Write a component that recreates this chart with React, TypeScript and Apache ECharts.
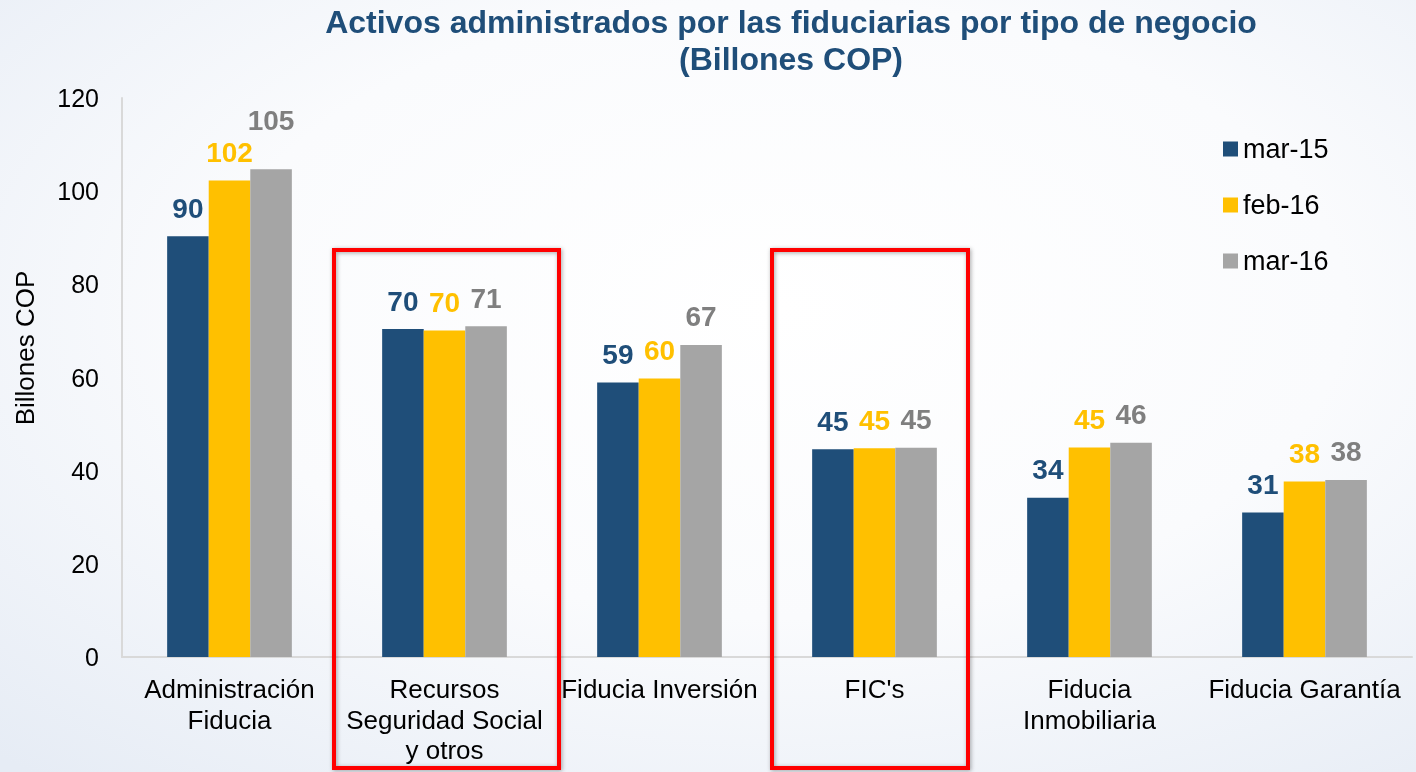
import React, { useEffect, useRef } from "react";
import * as echarts from "echarts";

const categories = [
  "Administración\nFiducia",
  "Recursos\nSeguridad Social\ny otros",
  "Fiducia Inversión",
  "FIC's",
  "Fiducia\nInmobiliaria",
  "Fiducia Garantía",
];
const seriesNames = ["mar-15", "feb-16", "mar-16"];
const mar15 = [90.3, 70.4, 58.9, 44.6, 34.2, 31.0];
const feb16 = [102.3, 70.1, 59.8, 44.8, 45.0, 37.7];
const mar16 = [104.7, 71.0, 67.0, 44.9, 46.0, 38.0];
const yTicks = [0, 20, 40, 60, 80, 100, 120];

const barColors = ["#1F4E79", "#FFC000", "#A5A5A5"];
const labelColors = ["#1F4E79", "#FFC000", "#7F7F7F"];
const FONT = "Liberation Sans, Arial, sans-serif";

export default function App() {
  const ref = useRef<HTMLDivElement>(null);
  useEffect(() => {
    if (!ref.current) return;
    const chart = echarts.init(ref.current, undefined, { renderer: "svg" });
    const data = [mar15, feb16, mar16];
    const boxStyle = {
      fill: "none",
      stroke: "#FF0000",
      lineWidth: 4,
      shadowBlur: 4,
      shadowColor: "rgba(0,0,0,0.35)",
      shadowOffsetX: 1,
      shadowOffsetY: 1,
    };
    chart.setOption({
      animation: false,
      backgroundColor: {
        type: "radial",
        x: 0.55,
        y: 0.4,
        r: 0.8,
        colorStops: [
          { offset: 0, color: "#FFFFFF" },
          { offset: 0.5, color: "#FAFBFD" },
          { offset: 1, color: "#E6ECF5" },
        ],
      },
      textStyle: { fontFamily: FONT },
      title: {
        text: "Activos administrados por las fiduciarias por tipo de negocio\n(Billones COP)",
        left: 786,
        top: -2,
        textAlign: "center",
        textStyle: {
          fontFamily: FONT,
          fontSize: 32,
          fontWeight: "bold",
          color: "#1F4E79",
          lineHeight: 37,
        },
      },
      legend: {
        orient: "vertical",
        left: 1218,
        top: 129,
        icon: "rect",
        itemWidth: 15,
        itemHeight: 15,
        itemGap: 26,
        data: seriesNames,
        textStyle: {
          fontFamily: FONT,
          fontSize: 27,
          color: "#000",
          lineHeight: 30,
          padding: [0, 0, 0, 0],
        },
      },
      grid: { left: 122, right: 4, top: 98, bottom: 115, containLabel: false },
      xAxis: {
        type: "category",
        data: categories,
        axisLine: { lineStyle: { color: "#D9D9D9", width: 2 } },
        axisTick: { show: false },
        axisLabel: {
          interval: 0,
          fontFamily: FONT,
          fontSize: 26,
          color: "#000",
          lineHeight: 30.5,
          margin: 17,
        },
      },
      yAxis: {
        type: "value",
        min: 0,
        max: 120,
        interval: 20,
        axisLine: { show: true, lineStyle: { color: "#D9D9D9", width: 2 } },
        axisTick: { show: false },
        splitLine: { show: false },
        axisLabel: {
          fontFamily: FONT,
          fontSize: 25,
          color: "#000",
          margin: 23,
          formatter: (v: number) => (yTicks.includes(v) ? String(v) : ""),
        },
      },
      graphic: [
        {
          type: "text",
          x: 25,
          y: 348,
          rotation: Math.PI / 2,
          style: {
            text: "Billones COP",
            fontFamily: FONT,
            fontSize: 26,
            fill: "#000",
            align: "center",
            verticalAlign: "middle",
          },
        },
        {
          type: "rect",
          shape: { x: 334, y: 250, width: 225, height: 518 },
          style: boxStyle,
          z: 100,
        },
        {
          type: "rect",
          shape: { x: 772, y: 250, width: 196, height: 518 },
          style: boxStyle,
          z: 100,
        },
      ],
      series: seriesNames.map((name, i) => ({
        name,
        type: "bar",
        data: data[i].map((v, j) =>
          i === 2 && j === 0 ? { value: v, label: { offset: [0, -21] } } : v
        ),
        barGap: "0%",
        barCategoryGap: "42%",
        itemStyle: { color: barColors[i] },
        label: {
          show: true,
          position: "top",
          distance: 14,
          fontFamily: FONT,
          fontSize: 28,
          fontWeight: "bold",
          color: labelColors[i],
          formatter: (p: any) => String(Math.round(p.value)),
        },
      })),
    });
    return () => chart.dispose();
  }, []);
  return (
    <div
      ref={ref}
      style={{ position: "fixed", left: 0, top: 0, width: 1416, height: 772 }}
    />
  );
}
